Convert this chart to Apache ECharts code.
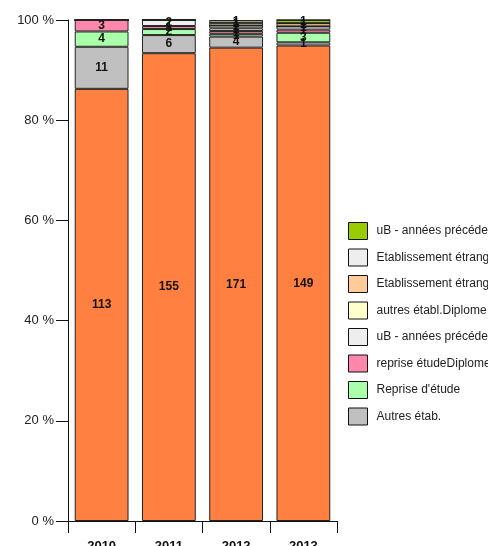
<!DOCTYPE html>
<html><head><meta charset="utf-8">
<script src="https://cdn.jsdelivr.net/npm/echarts@6/dist/echarts.min.js"></script>
<style>html,body{margin:0;padding:0;background:#fff}#c{width:488px;height:546px}</style>
</head><body><div id="c"></div>
<script>
const categories = ['2010', '2011', '2012', '2013'];
const seriesNames = [
  'Etudiants uB Bac+3',
  'Autres étab.',
  "Reprise d'étude",
  'reprise étudeDiplome',
  'uB - années précédentes',
  'autres établ.Diplome',
  'Etablissement étranger UE',
  'Etablissement étranger hors UE',
  'uB - années précédentes Diplome',
  'autre'
];
const seriesColors = ['#ff8040', '#c0c0c0', '#aaffaa', '#ff88aa', '#eeeeee', '#ffffcc', '#ffcc99', '#eeeeee', '#99cc00', '#cccc99'];
// counts, per series, per year
const vEtudiants = [113, 155, 171, 149];
const vAutres = [11, 6, 4, 1];
const vReprise = [4, 2, 1, 3];
const vRepriseDipl = [3, 1, 1, 1];
const vUbPrec = [0, 2, 1, 1];
const vAutresDipl = [0, 0, 1, 0];
const vEtrUE = [0, 0, 0, 1];
const vEtrHors = [0, 0, 1, 0];
const vUbPrecDipl = [0, 0, 0, 1];
const vAutre = [0, 0, 1, 0];
const values = [vEtudiants, vAutres, vReprise, vRepriseDipl, vUbPrec, vAutresDipl, vEtrUE, vEtrHors, vUbPrecDipl, vAutre];
const yTicks = [0, 20, 40, 60, 80, 100];

const totals = categories.map((c, i) => values.reduce((s, arr) => s + arr[i], 0));

const chart = echarts.init(document.getElementById('c'), null, {renderer: 'canvas'});
const series = values.map((arr, si) => ({
  name: seriesNames[si],
  type: 'bar',
  stack: 'all',
  barWidth: '80%',
  itemStyle: {color: seriesColors[si], borderColor: '#222', borderWidth: 1},
  label: {
    show: true, position: 'inside', color: '#111', fontWeight: 'bold', fontSize: 12,
    fontFamily: 'Liberation Sans, Arial, sans-serif',
    formatter: p => arr[p.dataIndex] > 0 ? String(arr[p.dataIndex]) : ''
  },
  data: arr.map((v, i) => v / totals[i] * 100)
}));

chart.setOption({
  animation: false,
  textStyle: {fontFamily: 'Liberation Sans, Arial, sans-serif'},
  grid: {left: 68, top: 20, right: 151, bottom: 25, containLabel: false, outerBoundsMode: 'none'},
  legend: {
    type: 'scroll',
    orient: 'vertical',
    left: 343, top: 217, height: 222,
    icon: 'rect',
    itemWidth: 19, itemHeight: 17, itemGap: 8.5,
    pageIconSize: 0, pageFormatter: '', pageButtonItemGap: 0, pageButtonGap: 0,
    pageTextStyle: {color: 'rgba(0,0,0,0)'},
    textStyle: {color: '#222', fontSize: 12, padding: [0, 0, 0, 4]},
    data: seriesNames.slice(0, 9).reverse().map((n, i) => ({name: n})),
    itemStyle: {borderColor: '#111', borderWidth: 1}
  },
  xAxis: {
    type: 'category', data: categories,
    axisLine: {lineStyle: {color: '#111'}},
    axisTick: {show: true, length: 12, lineStyle: {color: '#111'}},
    axisLabel: {color: '#111', fontWeight: 'bold', fontSize: 13, margin: 19}
  },
  yAxis: {
    type: 'value', min: 0, max: 100, interval: 20,
    axisLine: {show: true, lineStyle: {color: '#111'}},
    axisTick: {show: true, length: 12, lineStyle: {color: '#111'}},
    splitLine: {show: false},
    axisLabel: {color: '#222', fontSize: 13, margin: 14, formatter: v => yTicks.includes(v) ? v + ' %' : ''}
  },
  series: series
});
</script></body></html>
